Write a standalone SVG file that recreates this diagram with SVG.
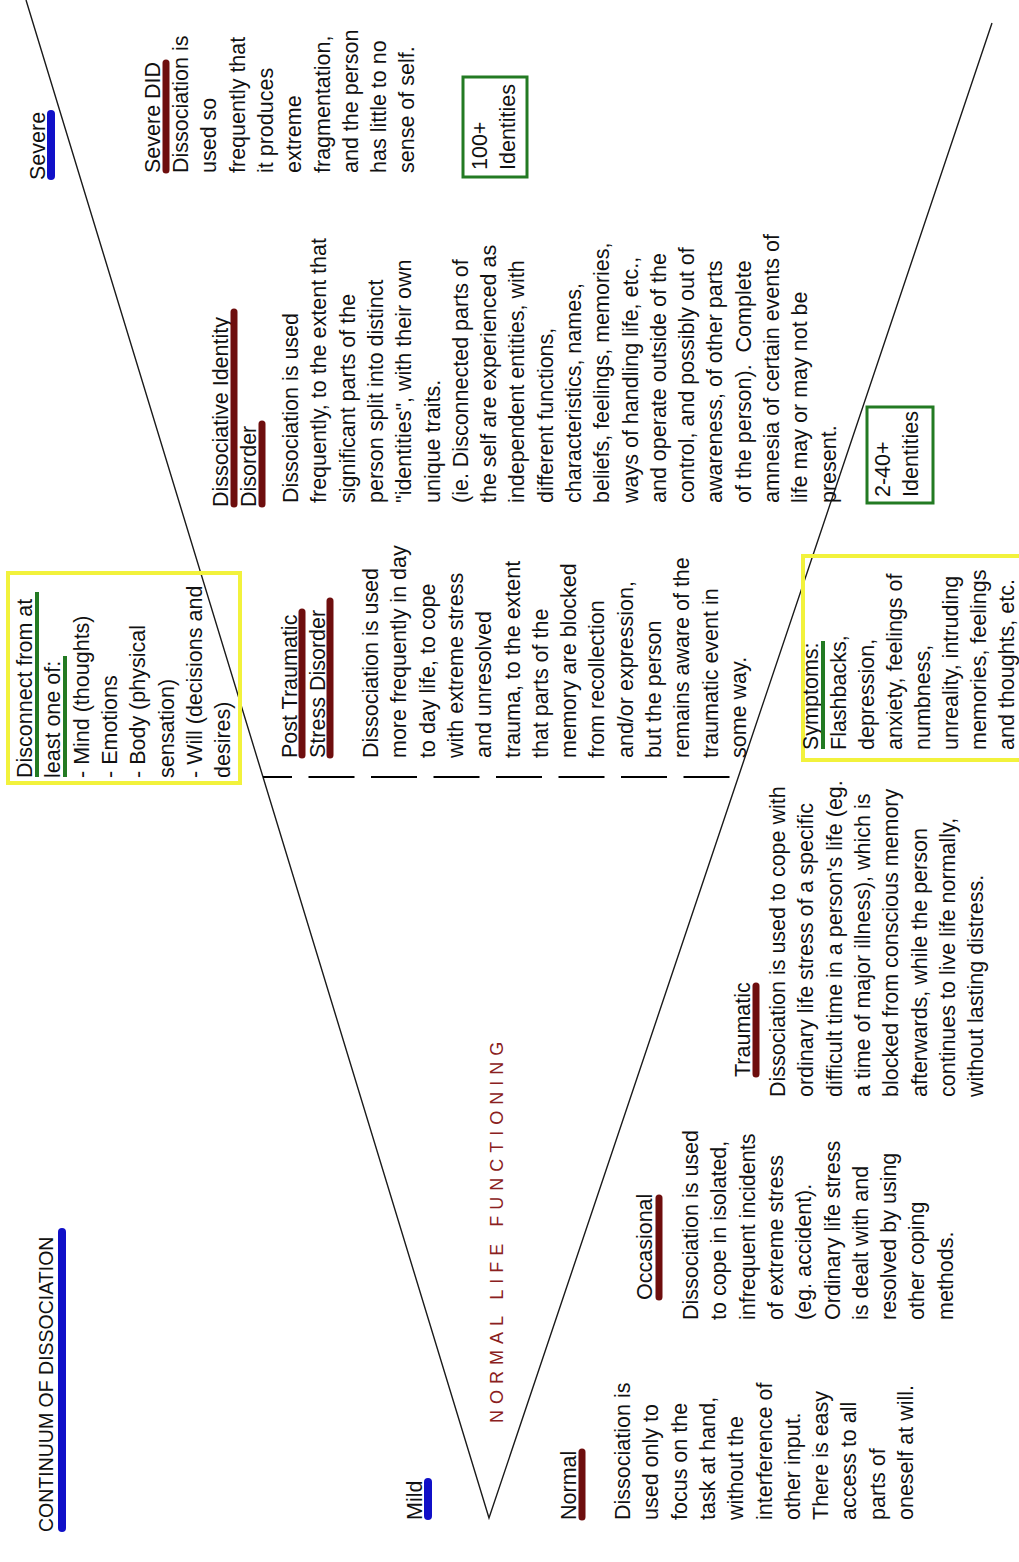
<svg xmlns="http://www.w3.org/2000/svg" width="1019" height="1562" viewBox="0 0 1019 1562">
  <style>
    .t { font-family: "Liberation Sans", Arial, sans-serif; font-size: 21.5px; fill: #111; }
    .title { font-size: 19.5px; }
    .nlf { font-size: 18px; fill: #8a2020; letter-spacing: 6px; }
    .bar-red { stroke: #6e0e0e; stroke-width: 7; stroke-linecap: round; }
    .bar-blue { stroke: #1010c8; stroke-width: 8; stroke-linecap: round; }
    .bar-green { stroke: #237a23; stroke-width: 4; }
    .arm { stroke: #1a1a1a; stroke-width: 1.4; fill: none; }
    .divider { stroke: #000; stroke-width: 2; stroke-dasharray: 46 16.5; stroke-dashoffset: 17; }
    .ybox { fill: none; stroke: #f2f23c; stroke-width: 4; }
    .gbox { fill: none; stroke: #237a23; stroke-width: 3; }
  </style>
  <rect width="1019" height="1562" fill="#fff"/>
  <!-- Everything is laid out left-to-right and turned a quarter turn -->
  <g transform="translate(0,1562) rotate(-90)">
    <g id="connectors">
      <polyline class="arm" points="1562,26 44,489 1539,992"/>
      <line class="divider" x1="785" y1="263" x2="785" y2="738"/>
    </g>

    <g id="title">
      <text class="t title" x="30" y="53">CONTINUUM OF DISSOCIATION</text>
      <line class="bar-blue" x1="34" y1="62" x2="330" y2="62"/>
    </g>

    <g id="mild">
      <text class="t" x="42" y="422">Mild</text>
      <line class="bar-blue" x1="46" y1="428" x2="80" y2="428"/>
    </g>

    <g id="severe">
      <text class="t" x="1382" y="45">Severe</text>
      <line class="bar-blue" x1="1386" y1="51" x2="1448" y2="51"/>
    </g>

    <g id="normal-life-functioning">
      <text class="t nlf" x="139" y="503">NORMAL LIFE FUNCTIONING</text>
    </g>

    <g id="normal">
      <text class="t" x="42" y="576">Normal</text>
      <line class="bar-red" x1="45" y1="582" x2="110" y2="582"/>
      <text class="t" x="42" y="630">
        <tspan x="42">Dissociation is</tspan>
        <tspan x="42" dy="28.3">used only to</tspan>
        <tspan x="42" dy="28.3">focus on the</tspan>
        <tspan x="42" dy="28.3">task at hand,</tspan>
        <tspan x="42" dy="28.3">without the</tspan>
        <tspan x="42" dy="28.3">interference of</tspan>
        <tspan x="42" dy="28.3">other input.</tspan>
        <tspan x="42" dy="28.3">There is easy</tspan>
        <tspan x="42" dy="28.3">access to all</tspan>
        <tspan x="42" dy="28.3">parts of</tspan>
        <tspan x="42" dy="28.3">oneself at will.</tspan>
      </text>
    </g>

    <g id="occasional">
      <text class="t" x="262" y="652">Occasional</text>
      <line class="bar-red" x1="265" y1="659" x2="364" y2="659"/>
      <text class="t" x="242" y="698">
        <tspan x="242">Dissociation is used</tspan>
        <tspan x="242" dy="28.3">to cope in isolated,</tspan>
        <tspan x="242" dy="28.3">infrequent incidents</tspan>
        <tspan x="242" dy="28.3">of extreme stress</tspan>
        <tspan x="242" dy="28.3">(eg. accident).</tspan>
        <tspan x="242" dy="28.3">Ordinary life stress</tspan>
        <tspan x="242" dy="28.3">is dealt with and</tspan>
        <tspan x="242" dy="28.3">resolved by using</tspan>
        <tspan x="242" dy="28.3">other coping</tspan>
        <tspan x="242" dy="28.3">methods.</tspan>
      </text>
    </g>

    <g id="traumatic">
      <text class="t" x="485" y="750">Traumatic</text>
      <line class="bar-red" x1="488" y1="756" x2="576" y2="756"/>
      <text class="t" x="465" y="785">
        <tspan x="465">Dissociation is used to cope with</tspan>
        <tspan x="465" dy="28.3">ordinary life stress of a specific</tspan>
        <tspan x="465" dy="28.3">difficult time in a person's life (eg.</tspan>
        <tspan x="465" dy="28.3">a time of major illness), which is</tspan>
        <tspan x="465" dy="28.3">blocked from conscious memory</tspan>
        <tspan x="465" dy="28.3">afterwards, while the person</tspan>
        <tspan x="465" dy="28.3">continues to live life normally,</tspan>
        <tspan x="465" dy="28.3">without lasting distress.</tspan>
      </text>
    </g>

    <g id="dissociation-components">
      <rect class="ybox" x="779" y="8" width="210" height="232"/>
      <text class="t" x="784" y="32">
        <tspan x="784">Disconnect from at</tspan>
        <tspan x="784" dy="28.3">least one of:</tspan>
        <tspan x="784" dy="28.3">- Mind (thoughts)</tspan>
        <tspan x="784" dy="28.3">- Emotions</tspan>
        <tspan x="784" dy="28.3">- Body (physical</tspan>
        <tspan x="784" dy="28.3">sensation)</tspan>
        <tspan x="784" dy="28.3">- Will (decisions and</tspan>
        <tspan x="784" dy="28.3">desires)</tspan>
      </text>
      <line class="bar-green" x1="785" y1="37" x2="970" y2="37"/>
      <line class="bar-green" x1="785" y1="65" x2="906" y2="65"/>
    </g>

    <g id="symptoms">
      <rect class="ybox" x="802" y="803" width="204" height="240"/>
      <text class="t" x="812" y="818">
        <tspan x="812">Symptoms:</tspan>
        <tspan x="812" dy="28">Flashbacks,</tspan>
        <tspan x="812" dy="28">depression,</tspan>
        <tspan x="812" dy="28">anxiety, feelings of</tspan>
        <tspan x="812" dy="28">numbness,</tspan>
        <tspan x="812" dy="28">unreality, intruding</tspan>
        <tspan x="812" dy="28">memories, feelings</tspan>
        <tspan x="812" dy="28">and thoughts, etc.</tspan>
      </text>
      <line class="bar-green" x1="813" y1="823" x2="921" y2="823"/>
    </g>

    <g id="ptsd">
      <text class="t" x="804" y="297">Post Traumatic</text>
      <line class="bar-red" x1="807" y1="302" x2="950" y2="302"/>
      <text class="t" x="804" y="325">Stress Disorder</text>
      <line class="bar-red" x1="807" y1="330" x2="961" y2="330"/>
      <text class="t" x="804" y="378">
        <tspan x="804">Dissociation is used</tspan>
        <tspan x="804" dy="28.3">more frequently in day</tspan>
        <tspan x="804" dy="28.3">to day life, to cope</tspan>
        <tspan x="804" dy="28.3">with extreme stress</tspan>
        <tspan x="804" dy="28.3">and unresolved</tspan>
        <tspan x="804" dy="28.3">trauma, to the extent</tspan>
        <tspan x="804" dy="28.3">that parts of the</tspan>
        <tspan x="804" dy="28.3">memory are blocked</tspan>
        <tspan x="804" dy="28.3">from recollection</tspan>
        <tspan x="804" dy="28.3">and/or expression,</tspan>
        <tspan x="804" dy="28.3">but the person</tspan>
        <tspan x="804" dy="28.3">remains aware of the</tspan>
        <tspan x="804" dy="28.3">traumatic event in</tspan>
        <tspan x="804" dy="28.3">some way.</tspan>
      </text>
    </g>

    <g id="did">
      <text class="t" x="1055" y="228">Dissociative Identity</text>
      <line class="bar-red" x1="1058" y1="234" x2="1250" y2="234"/>
      <text class="t" x="1055" y="256">Disorder</text>
      <line class="bar-red" x1="1058" y1="262" x2="1138" y2="262"/>
      <text class="t" x="1059" y="298">
        <tspan x="1059">Dissociation is used</tspan>
        <tspan x="1059" dy="28.3">frequently, to the extent that</tspan>
        <tspan x="1059" dy="28.3">significant parts of the</tspan>
        <tspan x="1059" dy="28.3">person split into distinct</tspan>
        <tspan x="1059" dy="28.3">"identities", with their own</tspan>
        <tspan x="1059" dy="28.3">unique traits.</tspan>
        <tspan x="1059" dy="28.3">(ie. Disconnected parts of</tspan>
        <tspan x="1059" dy="28.3">the self are experienced as</tspan>
        <tspan x="1059" dy="28.3">independent entities, with</tspan>
        <tspan x="1059" dy="28.3">different functions,</tspan>
        <tspan x="1059" dy="28.3">characteristics, names,</tspan>
        <tspan x="1059" dy="28.3">beliefs, feelings, memories,</tspan>
        <tspan x="1059" dy="28.3">ways of handling life, etc.,</tspan>
        <tspan x="1059" dy="28.3">and operate outside of the</tspan>
        <tspan x="1059" dy="28.3">control, and possibly out of</tspan>
        <tspan x="1059" dy="28.3">awareness, of other parts</tspan>
        <tspan x="1059" dy="28.3">of the person).&#160; Complete</tspan>
        <tspan x="1059" dy="28.3">amnesia of certain events of</tspan>
        <tspan x="1059" dy="28.3">life may or may not be</tspan>
        <tspan x="1059" dy="28.3">present.</tspan>
      </text>
    </g>

    <g id="did-count">
      <rect class="gbox" x="1059" y="867" width="96" height="66"/>
      <text class="t" x="1065" y="890">
        <tspan x="1065">2-40+</tspan>
        <tspan x="1065" dy="28.3">Identities</tspan>
      </text>
    </g>

    <g id="severe-did">
      <text class="t" x="1389" y="160">Severe DID</text>
      <line class="bar-red" x1="1392" y1="166" x2="1499" y2="166"/>
      <text class="t" x="1389" y="188">
        <tspan x="1389">Dissociation is</tspan>
        <tspan x="1389" dy="28.3">used so</tspan>
        <tspan x="1389" dy="28.3">frequently that</tspan>
        <tspan x="1389" dy="28.3">it produces</tspan>
        <tspan x="1389" dy="28.3">extreme</tspan>
        <tspan x="1389" dy="28.3">fragmentation,</tspan>
        <tspan x="1389" dy="28.3">and the person</tspan>
        <tspan x="1389" dy="28.3">has little to no</tspan>
        <tspan x="1389" dy="28.3">sense of self.</tspan>
      </text>
    </g>

    <g id="severe-did-count">
      <rect class="gbox" x="1385" y="463" width="100" height="64"/>
      <text class="t" x="1392" y="487">
        <tspan x="1392">100+</tspan>
        <tspan x="1392" dy="28.3">Identities</tspan>
      </text>
    </g>
  </g>
</svg>
